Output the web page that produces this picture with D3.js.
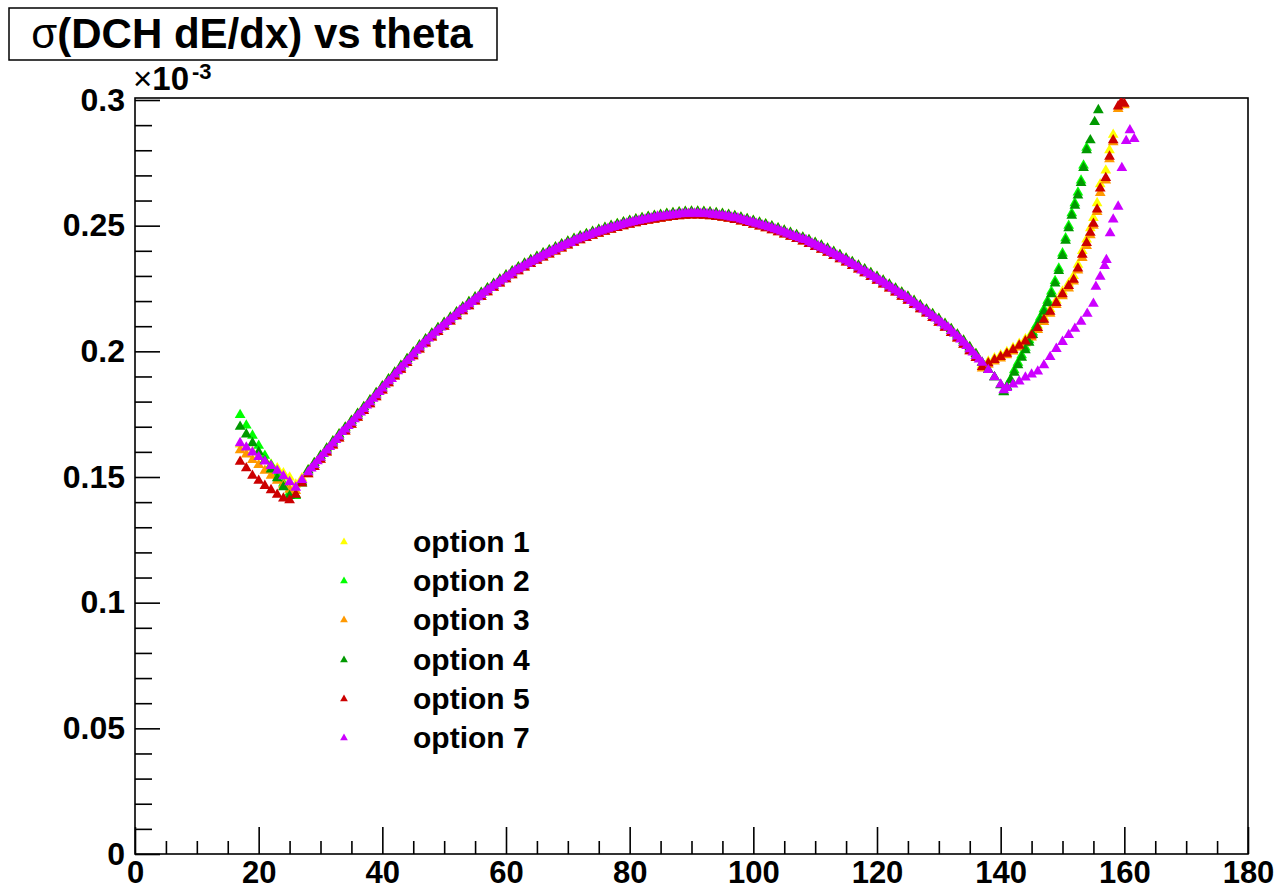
<!DOCTYPE html>
<html lang="en">
<head>
<meta charset="UTF-8">
<title>sigma(DCH dE/dx) vs theta</title>
<script src="https://d3js.org/d3.v7.min.js"></script>
<style>
  * { margin: 0; padding: 0; box-sizing: border-box; }
  body { background: #fff; font-family: 'Liberation Sans', Arial, Helvetica, sans-serif; }
  svg { display: block; }
  .axis path { display: none; }
  .axis line { stroke: #000; stroke-width: 1.6; }
  .axis text { font-size: 31px; font-weight: bold; fill: #000; font-family: 'Liberation Sans', Arial, sans-serif; }
  .yaxis text { font-size: 32px; }
</style>
</head>
<body>
<svg id="chart"></svg>
<script>
// theta grids (degrees)
var thetaLeft = [17, 18, 19, 20, 21, 22, 23, 24, 25, 26, 27];
var thetaMid = [28, 29, 30, 31, 32, 33, 34, 35, 36, 37, 38, 39, 40, 41, 42, 43, 44, 45, 46, 47, 48, 49,
  50, 51, 52, 53, 54, 55, 56, 57, 58, 59, 60, 61, 62, 63, 64, 65, 66, 67, 68, 69, 70, 71, 72, 73, 74, 75,
  76, 77, 78, 79, 80, 81, 82, 83, 84, 85, 86, 87, 88, 89, 90, 91, 92, 93, 94, 95, 96, 97, 98, 99, 100,
  101, 102, 103, 104, 105, 106, 107, 108, 109, 110, 111, 112, 113, 114, 115, 116, 117, 118, 119, 120,
  121, 122, 123, 124, 125, 126, 127, 128, 129, 130, 131, 132, 133, 134, 135, 136];
var thetaMidFine = [28, 28.5, 29, 29.5, 30, 30.5, 31, 31.5, 32, 32.5, 33, 33.5, 34, 34.5, 35, 35.5, 36, 36.5,
  37, 37.5, 38, 38.5, 39, 39.5, 40, 40.5, 41, 41.5, 42, 42.5, 43, 43.5, 44, 44.5, 45, 45.5, 46, 46.5, 47, 47.5,
  48, 48.5, 49, 49.5, 50, 50.5, 51, 51.5, 52, 52.5, 53, 53.5, 54, 54.5, 55, 55.5, 56, 56.5, 57, 57.5,
  58, 58.5, 59, 59.5, 60, 60.5, 61, 61.5, 62, 62.5, 63, 63.5, 64, 64.5, 65, 65.5, 66, 66.5, 67, 67.5,
  68, 68.5, 69, 69.5, 70, 70.5, 71, 71.5, 72, 72.5, 73, 73.5, 74, 74.5, 75, 75.5, 76, 76.5, 77, 77.5,
  78, 78.5, 79, 79.5, 80, 80.5, 81, 81.5, 82, 82.5, 83, 83.5, 84, 84.5, 85, 85.5, 86, 86.5, 87, 87.5,
  88, 88.5, 89, 89.5, 90, 90.5, 91, 91.5, 92, 92.5, 93, 93.5, 94, 94.5, 95, 95.5, 96, 96.5, 97, 97.5,
  98, 98.5, 99, 99.5, 100, 100.5, 101, 101.5, 102, 102.5, 103, 103.5, 104, 104.5, 105, 105.5, 106, 106.5,
  107, 107.5, 108, 108.5, 109, 109.5, 110, 110.5, 111, 111.5, 112, 112.5, 113, 113.5, 114, 114.5, 115, 115.5,
  116, 116.5, 117, 117.5, 118, 118.5, 119, 119.5, 120, 120.5, 121, 121.5, 122, 122.5, 123, 123.5, 124, 124.5,
  125, 125.5, 126, 126.5, 127, 127.5, 128, 128.5, 129, 129.5, 130, 130.5, 131, 131.5, 132, 132.5, 133, 133.5,
  134, 134.5, 135, 135.5, 136, 136.5];

// sigma values (x 10^-3) in the central region
var valMid = [.1519, .1548, .1577, .1606, .1634, .1662, .1689, .1716, .1744, .1771, .1798, .1826, .1853,
  .1881, .1908, .1935, .1962, .1989, .2016, .2040, .2063, .2085, .2106, .2127, .2148, .2168, .2188, .2207,
  .2225, .2243, .2261, .2278, .2295, .2311, .2327, .2342, .2356, .2369, .2382, .2394, .2406, .2418, .2429,
  .2440, .2450, .2459, .2468, .2476, .2484, .2492, .2499, .2506, .2512, .2518, .2523, .2528, .2532, .2536,
  .2540, .2543, .2546, .2548, .2549, .2549, .2548, .2546, .2543, .2540, .2536, .2531, .2525, .2519, .2512,
  .2505, .2498, .2490, .2482, .2473, .2464, .2455, .2445, .2435, .2424, .2413, .2401, .2388, .2375, .2362,
  .2348, .2334, .2319, .2304, .2289, .2274, .2258, .2242, .2226, .2210, .2193, .2176, .2159, .2141, .2122,
  .2102, .2081, .2059, .2035, .2009, .1982];
var valMidHi = [.1527, .1556, .1585, .1614, .1642, .1670, .1697, .1724, .1752, .1779, .1806, .1834, .1861,
  .1889, .1916, .1943, .1970, .1997, .2024, .2048, .2071, .2093, .2114, .2135, .2156, .2176, .2196, .2215,
  .2233, .2251, .2269, .2286, .2303, .2319, .2335, .2350, .2364, .2377, .2390, .2402, .2414, .2426, .2437,
  .2448, .2458, .2467, .2476, .2484, .2492, .2500, .2507, .2514, .2520, .2526, .2531, .2536, .2540, .2544,
  .2548, .2551, .2554, .2556, .2557, .2557, .2556, .2554, .2551, .2548, .2544, .2539, .2533, .2527, .2520,
  .2513, .2506, .2498, .2490, .2481, .2472, .2463, .2453, .2443, .2432, .2421, .2409, .2396, .2383, .2370,
  .2356, .2342, .2327, .2312, .2297, .2282, .2266, .2250, .2234, .2218, .2201, .2184, .2167, .2149, .2130,
  .2110, .2089, .2067, .2043, .2017, .1990];
var valMidLo = [.1511, .1540, .1569, .1598, .1626, .1654, .1681, .1708, .1736, .1763, .1790, .1818, .1845,
  .1873, .1900, .1927, .1954, .1981, .2008, .2032, .2055, .2077, .2098, .2119, .2140, .2160, .2180, .2199,
  .2217, .2235, .2253, .2270, .2287, .2303, .2319, .2334, .2348, .2361, .2374, .2386, .2398, .2410, .2421,
  .2432, .2442, .2451, .2460, .2468, .2476, .2484, .2491, .2498, .2504, .2510, .2515, .2520, .2524, .2528,
  .2532, .2535, .2538, .2540, .2541, .2541, .2540, .2538, .2535, .2532, .2528, .2523, .2517, .2511, .2504,
  .2497, .2490, .2482, .2474, .2465, .2456, .2447, .2437, .2427, .2416, .2405, .2393, .2380, .2367, .2354,
  .2340, .2326, .2311, .2296, .2281, .2266, .2250, .2234, .2218, .2202, .2185, .2168, .2151, .2133, .2114,
  .2094, .2073, .2051, .2027, .2001, .1974];
var valMid7 = [.1519, .1534, .1548, .1563, .1577, .1592, .1606, .1620, .1634, .1648, .1662, .1679, .1689, .1703,
  .1716, .1730, .1744, .1757, .1771, .1785, .1798, .1812, .1826, .1839, .1853, .1867, .1881, .1890, .1908, .1921,
  .1935, .1948, .1962, .1975, .1989, .2003, .2016, .2028, .2040, .2051, .2063, .2074, .2085, .2095, .2106, .2117,
  .2127, .2137, .2148, .2162, .2168, .2178, .2188, .2197, .2207, .2216, .2225, .2234, .2243, .2252, .2261, .2269,
  .2278, .2286, .2295, .2303, .2311, .2322, .2327, .2334, .2342, .2349, .2356, .2362, .2369, .2375, .2382, .2388,
  .2394, .2400, .2406, .2412, .2418, .2423, .2429, .2431, .2440, .2445, .2450, .2454, .2459, .2463, .2468, .2472,
  .2476, .2480, .2484, .2488, .2492, .2495, .2499, .2502, .2506, .2509, .2512, .2515, .2518, .2520, .2523, .2525,
  .2528, .2530, .2532, .2537, .2536, .2538, .2540, .2541, .2543, .2544, .2546, .2547, .2548, .2548, .2549, .2549,
  .2549, .2548, .2548, .2547, .2546, .2544, .2543, .2541, .2540, .2538, .2536, .2533, .2531, .2530, .2525, .2522,
  .2519, .2515, .2512, .2508, .2505, .2501, .2498, .2494, .2490, .2486, .2482, .2477, .2473, .2468, .2464, .2459,
  .2455, .2450, .2445, .2443, .2435, .2429, .2424, .2418, .2413, .2407, .2401, .2394, .2388, .2381, .2375, .2368,
  .2362, .2355, .2348, .2341, .2334, .2322, .2319, .2311, .2304, .2296, .2289, .2281, .2274, .2266, .2258, .2250,
  .2242, .2234, .2226, .2221, .2210, .2201, .2193, .2184, .2176, .2167, .2159, .2150, .2141, .2131, .2122, .2112,
  .2102, .2095, .2081, .2070, .2059, .2047, .2035, .2022, .2009, .1996, .1982, .1968];

// forward region, per option
var opt1Left = [.1630, .1615, .1600, .1585, .1568, .1550, .1535, .1515, .1498, .1470, .1495];
var opt2Left = [.1747, .1705, .1665, .1625, .1585, .1548, .1510, .1475, .1438, .1425, .1475];
var opt3Left = [.1607, .1590, .1568, .1548, .1525, .1505, .1485, .1468, .1450, .1445, .1485];
var opt4Left = [.1700, .1670, .1635, .1600, .1565, .1530, .1495, .1460, .1425, .1428, .1480];
var opt5Left = [.1561, .1535, .1505, .1485, .1465, .1448, .1430, .1415, .1408, .1430, .1475];
var opt7Left = [.1635, .1618, .1598, .1580, .1562, .1544, .1525, .1503, .1480, .1458, .1488];

// backward region, per option
var thetaRightA = [137, 138, 139, 140, 141, 142, 143, 144, 145, 146, 147, 148, 149, 150, 151, 151.8,
  152.5, 153.2, 153.9, 154.5, 155, 155.6, 156.1, 157, 157.6, 158.2, 159, 159.5, 160];
var opt1Right = [.1945, .1960, .1973, .1985, .1998, .2013, .2030, .2048, .2072, .2102, .2135, .2168, .2203,
  .2238, .2270, .2300, .2345, .2400, .2445, .2490, .2531, .2590, .2665, .2720, .2800, .2862];
var opt3Right = [.1932, .1947, .1960, .1972, .1985, .2000, .2016, .2033, .2055, .2085, .2117, .2150, .2185,
  .2220, .2250, .2278, .2322, .2372, .2420, .2462, .2500, .2555, .2630, .2680, .2765, .2832, .2965, .2985, .2980];
var opt5Right = [.1938, .1953, .1966, .1978, .1991, .2006, .2023, .2040, .2063, .2093, .2126, .2158, .2193,
  .2228, .2260, .2285, .2330, .2385, .2431, .2472, .2508, .2565, .2648, .2690, .2775, .2840, .2975, .2990, .2985];

var thetaRightB = [137, 138, 139, 140, 140.5, 141, 141.6, 142.2, 142.8, 143.4, 144, 144.6, 145.2, 145.8,
  146.4, 147, 147.6, 148.2, 148.8, 149.4, 150, 150.5, 151, 151.5, 152, 152.5, 153, 153.4, 153.9, 154.5,
  155.2, 155.8];
var opt2Right = [.1955, .1926, .1897, .1866, .1840, .1860, .1888, .1925, .1955, .1985, .2015, .2045, .2075,
  .2105, .2135, .2168, .2202, .2238, .2280, .2330, .2390, .2450, .2500, .2550, .2590, .2632, .2680, .2740, .2810];
var opt4Right = [.1955, .1926, .1897, .1865, .1838, .1858, .1885, .1915, .1945, .1975, .2005, .2035, .2065,
  .2095, .2125, .2158, .2192, .2228, .2270, .2320, .2380, .2440, .2490, .2540, .2580, .2620, .2670, .2730,
  .2800, .2840, .2913, .2960];

var thetaRightC = [137, 138, 139, 140, 140.5, 141, 142, 143, 144, 145, 146, 147, 148, 149, 150, 151, 152,
  153, 154, 155, 155.4, 156.1, 156.8, 157.1, 157.7, 158.2, 159, 159.6, 160.3, 160.9, 161.6];
var opt7Right = [.1955, .1926, .1897, .1868, .1846, .1855, .1868, .1880, .1896, .1908, .1920, .1945, .1978,
  .2010, .2038, .2065, .2090, .2118, .2150, .2190, .2257, .2297, .2340, .2364, .2470, .2525, .2576, .2730,
  .2837, .2880, .2845];

var seriesNames = ['option 1', 'option 2', 'option 3', 'option 4', 'option 5', 'option 7'];
var seriesColors = ['#ffff00', '#00ff00', '#ff9900', '#009900', '#cc0000', '#cc00ff'];

var xTicks = [0, 20, 40, 60, 80, 100, 120, 140, 160, 180];
var yTicks = [0, 0.05, 0.1, 0.15, 0.2, 0.25, 0.3];

function pairs(th, v) { return d3.zip(th.slice(0, v.length), v); }

var series = [
  pairs(thetaLeft, opt1Left).concat(pairs(thetaMid, valMidHi), pairs(thetaRightA, opt1Right)),
  pairs(thetaLeft, opt2Left).concat(pairs(thetaMid, valMid), pairs(thetaRightB, opt2Right)),
  pairs(thetaLeft, opt3Left).concat(pairs(thetaMid, valMidLo), pairs(thetaRightA, opt3Right)),
  pairs(thetaLeft, opt4Left).concat(pairs(thetaMid, valMidHi), pairs(thetaRightB, opt4Right)),
  pairs(thetaLeft, opt5Left).concat(pairs(thetaMid, valMidLo), pairs(thetaRightA, opt5Right)),
  pairs(thetaLeft, opt7Left).concat(pairs(thetaMidFine, valMid7), pairs(thetaRightC, opt7Right))
];

var W = 1282, H = 893;
var frameL = 135, frameR = 1248, frameT = 98, frameB = 854;

var svg = d3.select('#chart').attr('width', W).attr('height', H);

var x = d3.scaleLinear().domain([0, 180]).range([frameL, frameR]);
var y = d3.scaleLinear().domain([0, 0.3]).range([frameB, 100]);

// frame
svg.append('rect')
  .attr('x', frameL).attr('y', frameT)
  .attr('width', frameR - frameL).attr('height', frameB - frameT)
  .attr('fill', 'none').attr('stroke', '#000').attr('stroke-width', 1.6);

// x axis: minor then major
svg.append('g').attr('class', 'axis')
  .attr('transform', 'translate(0,' + frameB + ')')
  .call(d3.axisBottom(x).tickValues(d3.range(0, 181, 5).filter(function(d) { return d % 20 !== 0; }))
    .tickSizeInner(-13).tickSizeOuter(0).tickFormat(''));
svg.append('g').attr('class', 'axis')
  .attr('transform', 'translate(0,' + frameB + ')')
  .call(d3.axisBottom(x).tickValues(xTicks).tickSizeInner(-27).tickSizeOuter(0).tickPadding(7)
    .tickFormat(d3.format('d')));

// y axis
svg.append('g').attr('class', 'axis')
  .attr('transform', 'translate(' + frameL + ',0)')
  .call(d3.axisLeft(y).tickValues(d3.range(0, 31).map(function(i) { return i / 100; })
      .filter(function(d, i) { return i % 5 !== 0; }))
    .tickSizeInner(-17).tickSizeOuter(0).tickFormat(''));
svg.append('g').attr('class', 'axis yaxis')
  .attr('transform', 'translate(' + frameL + ',0)')
  .call(d3.axisLeft(y).tickValues(yTicks).tickSizeInner(-25).tickSizeOuter(0).tickPadding(10)
    .tickFormat(function(d) { return d === 0 ? '0' : String(+d.toFixed(2)); }));

// exponent label
var ex = svg.append('text').attr('x', 133).attr('y', 90)
  .attr('font-size', 33).attr('fill', '#000');
ex.append('tspan').text('\u00d7');
ex.append('tspan').attr('font-weight', 'bold').text('10');
svg.append('text').attr('x', 192).attr('y', 79)
  .attr('font-size', 22).attr('font-weight', 'bold').attr('fill', '#000').text('-3');

// points
svg.append('clipPath').attr('id', 'frame-clip')
  .append('rect').attr('x', frameL).attr('y', frameT).attr('width', frameR - frameL).attr('height', frameB - frameT);

var marker = d3.symbol().type(d3.symbolTriangle).size(50);
var plot = svg.append('g').attr('clip-path', 'url(#frame-clip)');
series.forEach(function(pts, i) {
  plot.append('g').selectAll('path')
    .data(pts.filter(function(p) { return p[1] <= 0.3; }))
    .join('path')
    .attr('d', marker)
    .attr('transform', function(p) { return 'translate(' + x(p[0]) + ',' + y(p[1]) + ')'; })
    .attr('fill', seriesColors[i]);
});

// legend
var legendY = [542, 581, 620, 660, 699, 738];
var lg = svg.append('g');
seriesNames.forEach(function(name, i) {
  lg.append('path').attr('d', d3.symbol().type(d3.symbolTriangle).size(26))
    .attr('transform', 'translate(344,' + legendY[i] + ')')
    .attr('fill', seriesColors[i]);
  lg.append('text').attr('x', 413).attr('y', legendY[i] + 10)
    .attr('font-size', 30).attr('font-weight', 'bold').attr('fill', '#000').text(name);
});

// title box
svg.append('rect').attr('x', 9).attr('y', 8).attr('width', 488).attr('height', 52)
  .attr('fill', '#fff').attr('stroke', '#000').attr('stroke-width', 1.5);
var t = svg.append('text').attr('x', 252).attr('y', 48).attr('text-anchor', 'middle')
  .attr('font-size', 42).attr('font-weight', 'bold').attr('fill', '#000');
t.append('tspan').attr('font-weight', 'normal').text('\u03c3');
t.append('tspan').text('(DCH dE/dx) vs theta');
</script>
</body>
</html>
